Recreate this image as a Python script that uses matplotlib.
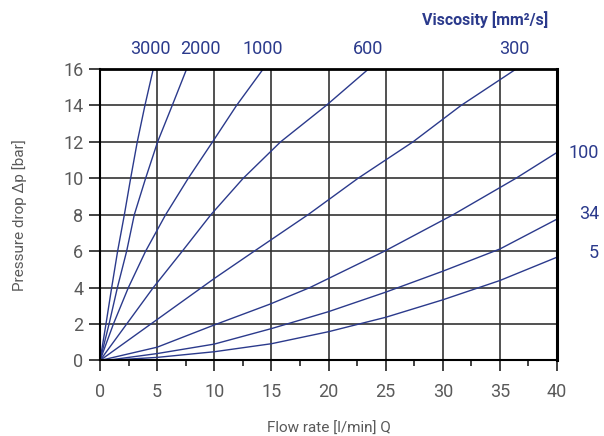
import matplotlib
matplotlib.use("Agg")
import matplotlib.pyplot as plt
from matplotlib.ticker import MultipleLocator

# Pressure drop curves, one per viscosity [mm2/s]
p_steps = [0, 2, 4, 6, 8, 10, 12, 14, 16]

q_3000 = [0, 0.52, 1.02, 1.54, 2.13, 2.68, 3.26, 3.93, 4.66]
q_2000 = [0, 0.79, 1.52, 2.33, 3.0, 3.99, 5.04, 6.32, 7.58]
q_1000 = [0, 1.17, 2.48, 3.99, 5.74, 7.72, 9.85, 11.95, 14.28]
q_600 = [0, 2.33, 4.66, 7.2, 9.7, 12.53, 15.8, 19.8, 23.5]

q_300 = [0, 5, 10, 13.5, 18.2, 22.58, 27.39, 31.6, 36.42]
p_300 = [0, 2.25, 4.5, 6, 8, 10, 12, 14, 16]

q_100 = [0, 5, 10, 14.86, 18.36, 24.9, 30.9, 36.4, 40]
p_100 = [0, 0.73, 1.95, 3.09, 4, 6, 8, 10, 11.42]

q_low = [0.5, 5, 10, 15, 20, 25, 30, 35, 40]
p_34 = [0, 0.38, 0.9, 1.75, 2.68, 3.75, 4.9, 6.12, 7.76]
p_5 = [0, 0.17, 0.48, 0.92, 1.58, 2.37, 3.33, 4.39, 5.67]

top_labels = ["3000", "2000", "1000", "600", "300"]
top_label_x = [4.4, 8.8, 14.2, 23.5, 36.3]
right_labels = ["100", "34", "5"]
right_label_y = [11.4, 8.05, 5.9]

BLUE = "#2b3a8c"
GRAY = "#5a5a5a"

fig = plt.figure(figsize=(6.04, 4.36), dpi=100)
ax = fig.add_axes([0.1656, 0.1732, 0.7566, 0.6685])

for q in [q_3000, q_2000, q_1000, q_600]:
    ax.plot(q, p_steps, color=BLUE, lw=1.0)
ax.plot(q_300, p_300, color=BLUE, lw=1.0)
ax.plot(q_100, p_100, color=BLUE, lw=1.0)
ax.plot(q_low, p_34, color=BLUE, lw=1.0)
ax.plot(q_low, p_5, color=BLUE, lw=1.0)

ax.set_xlim(0, 40)
ax.set_ylim(0, 16)
ax.xaxis.set_major_locator(MultipleLocator(5))
ax.xaxis.set_minor_locator(MultipleLocator(2.5))
ax.yaxis.set_major_locator(MultipleLocator(2))
ax.grid(True, which="major", color="#333333", lw=1.2)
ax.set_axisbelow(True)

for s in ax.spines.values():
    s.set_color("black")
ax.spines["left"].set_linewidth(1.5)
ax.spines["bottom"].set_linewidth(1.5)
ax.spines["top"].set_linewidth(2.0)
ax.spines["right"].set_linewidth(2.2)

ax.tick_params(which="major", direction="out", length=8, width=1.3,
               color="#333333", labelsize=13, labelcolor=GRAY, pad=8)
ax.tick_params(which="minor", direction="out", length=4, width=1.3, color="#333333")
ax.tick_params(axis="y", pad=4)
for lab in ax.get_xticklabels() + ax.get_yticklabels():
    lab.set_family("Roboto")

ax.set_xlabel("Flow rate [l/min] Q", fontsize=11, color=GRAY, family="Roboto",
              labelpad=15)
ax.set_ylabel("Pressure drop \u0394p [bar]", fontsize=11, color=GRAY, family="Roboto",
              labelpad=26)

for lab, x in zip(top_labels, top_label_x):
    ax.text(x, 16.6, lab, ha="center", va="bottom", fontsize=13, color=BLUE,
            family="Roboto")
for lab, y in zip(right_labels, right_label_y):
    ax.text(43.7, y, lab, ha="right", va="center", fontsize=13, color=BLUE,
            family="Roboto")
ax.text(33.7, 18.7, "Viscosity [mm\u00b2/s]", ha="center", va="center", fontsize=11.5,
        color=BLUE, family="Roboto", fontweight="bold")

fig.savefig("out.png", dpi=100)
